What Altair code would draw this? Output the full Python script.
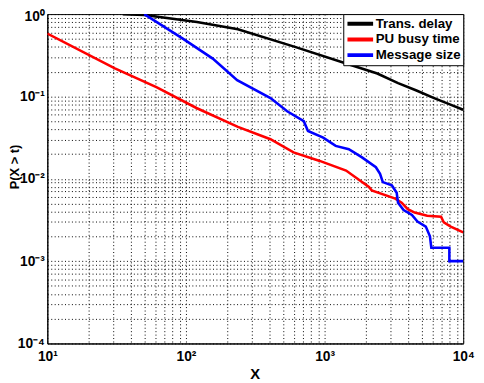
import altair as alt
import pandas as pd

# Trans. delay
td_x = [35, 50, 120, 237, 611, 1430, 2400, 3390, 4600, 6170, 8000, 10000]
td_y = [1.0, 0.977, 0.80, 0.655, 0.40, 0.251, 0.19, 0.145, 0.118, 0.0955, 0.080, 0.069]
# PU busy time
pu_x = [10, 30.7, 61.7, 119, 237, 407, 597, 912, 1429, 2089, 2188, 3236, 3597, 3981, 4467, 5495, 6918, 7244, 8128, 10000]
pu_y = [0.581, 0.219, 0.129, 0.0724, 0.0427, 0.0302, 0.0209, 0.0166, 0.0126, 0.00794, 0.00724, 0.00575, 0.00513,
        0.00427, 0.00389, 0.00355, 0.00347, 0.00295, 0.00263, 0.00224]
# Message size
ms_x = [50, 95.5, 156, 234, 407, 537, 708, 759, 977, 1202, 1496, 1862, 2344, 2512, 2630, 3055, 3311, 3388, 3715,
        4266, 4677, 5370, 5754, 5888, 7943, 7943, 10000]
ms_y = [1.0, 0.501, 0.288, 0.158, 0.0955, 0.0661, 0.0501, 0.038, 0.0316, 0.0251, 0.0229, 0.0182, 0.0138, 0.0115,
        0.00912, 0.00832, 0.00676, 0.00513, 0.00417, 0.00363, 0.00302, 0.00263, 0.00200, 0.00145, 0.00145, 0.001, 0.001]

series = ["Trans. delay", "PU busy time", "Message size"]
colors = ["#000000", "#ff0000", "#0000ff"]

rows = []
for name, xs, ys in [(series[0], td_x, td_y), (series[1], pu_x, pu_y), (series[2], ms_x, ms_y)]:
    for i, (a, b) in enumerate(zip(xs, ys)):
        rows.append({"series": name, "x": a, "y": b, "idx": i})
df = pd.DataFrame(rows)

x_ticks = [m * 10 ** k for k in range(1, 4) for m in range(1, 10)] + [10000]
y_ticks = [round(m * 10.0 ** k, 6) for k in range(-4, 0) for m in range(1, 10)] + [1.0]

x_label = ("datum.value == 10 ? '10¹' : datum.value == 100 ? '10²' : datum.value == 1000 ? '10³' : "
           "datum.value == 10000 ? '10⁴' : ''")
y_label = ("datum.value == 1 ? '10⁰' : datum.value == 0.1 ? '10⁻¹' : datum.value == 0.01 ? '10⁻²' : "
           "datum.value == 0.001 ? '10⁻³' : datum.value == 0.0001 ? '10⁻⁴' : ''")

font = "Liberation Sans"

chart = alt.Chart(df).mark_line(strokeWidth=2.6, clip=True).encode(
    x=alt.X("x:Q", scale=alt.Scale(type="log", domain=[10, 10000], nice=False),
            axis=alt.Axis(values=x_ticks, labelExpr=x_label, title="X", grid=True,
                          ticks=False, labelPadding=6, labelFlush=False, labelOverlap=False,
                          titleX=211, titleY=31, titleBaseline="middle", titleFontSize=15)),
    y=alt.Y("y:Q", scale=alt.Scale(type="log", domain=[0.0001, 1], nice=False),
            axis=alt.Axis(values=y_ticks, labelExpr=y_label, title="P(X > t)", grid=True,
                          ticks=False, labelPadding=3, labelFlush=False, labelOverlap=False,
                          labelOffset={"condition": {"test": "datum.value == 1", "value": 3}, "value": 0},
                          titleX=-33, titleY=155, titleBaseline="middle", titleAlign="center",
                          titleFontSize=13)),
    color=alt.Color("series:N", scale=alt.Scale(domain=series, range=colors),
                    legend=alt.Legend(title=None, orient="top-right", offset=0,
                                      fillColor="white", strokeColor="black", padding=2,
                                      symbolType="M-1,0H4.5", symbolStrokeWidth=4, symbolSize=90,
                                      symbolOffset=0, clipHeight=15.5,
                                      labelFontSize=13.5, labelFont=font, labelFontWeight="bold",
                                      labelColor="black",
                                      rowPadding=0, labelOffset=17)),
    order=alt.Order("idx:Q"),
).properties(
    width=423, height=335,
    autosize=alt.AutoSizeParams(type="none"),
    padding={"left": 40, "top": 3, "right": 13, "bottom": 37},
).configure_view(
    stroke="black", strokeWidth=1
).configure_axis(
    gridColor="black", gridDash=[1, 2.5], gridOpacity=1, gridWidth=1,
    domainColor="black", labelColor="black", titleColor="black",
    labelFont=font, titleFont=font, labelFontSize=14, labelFontWeight="bold",
    titleFontWeight="bold"
)

chart.save("out.html", embed_options={"renderer": "svg", "actions": False})
